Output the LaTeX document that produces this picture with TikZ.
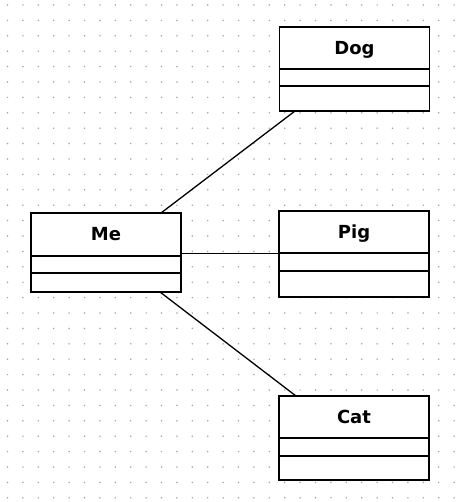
\documentclass[tikz,border=0pt]{standalone}
\usepackage{fontspec}
\newfontfamily\umlfont{DejaVu Sans}
\usetikzlibrary{calc}
\definecolor{dotc}{RGB}{165,165,165}
\tikzset{
  classbox/.style={draw=black, line width=1.7pt, fill=white, rectangle, anchor=north west, minimum width=150pt, inner sep=0pt, outer sep=0pt},
  classsep/.style={draw=black, line width=1.7pt},
  classname/.style={anchor=base, inner sep=0pt, font=\umlfont\bfseries\fontsize{18}{20}\selectfont},
  assoc/.style={draw=black, line width=1.3pt}
}
% #1 name, #2 text, #3 x, #4 y top, #5 height, #6 sep1 offset, #7 sep2 offset
\newcommand{\umlclass}[7]{%
  \node[classbox, minimum height=#5pt] (#1) at (#3,#4) {};
  \draw[classsep] ($(#1.north west)+(0,#6)$) -- ($(#1.north east)+(0,#6)$);
  \draw[classsep] ($(#1.north west)+(0,#7)$) -- ($(#1.north east)+(0,#7)$);
  \node[classname] (#1-name) at ($(#1.north)+(0,27.5)$) {#2};
}
\begin{document}
\begin{tikzpicture}[x=1pt, y=-1pt]
\useasboundingbox (0,0) rectangle (458,502);
\fill[white] (0,0) rectangle (458,502);
\foreach \i in {0,...,29} {
  \foreach \j in {0,...,32} {
    \fill[dotc] ({7.5+15.4*\i},{5+15.4*\j}) circle (0.85);
  }
}
\umlclass{Dog}{Dog}{279.5}{26.7}{84.3}{42.3}{59.3}
\umlclass{Me}{Me}{31}{213}{79}{43}{60}
\umlclass{Pig}{Pig}{279}{211}{86}{42}{60}
\umlclass{Cat}{Cat}{279}{396}{84}{42}{60}
\coordinate (dogfoot) at ($(Dog.south west)+(15.5,0)$);
\coordinate (metop) at ($(Me.north west)+(130,0)$);
\coordinate (mebot) at ($(Me.south west)+(129,0)$);
\coordinate (cattop) at ($(Cat.north west)+(17,0)$);
\coordinate (meright) at ($(Me.north east)+(0,40.5)$);
\coordinate (pigleft) at ($(Pig.north west)+(0,42.5)$);
\draw[assoc] (dogfoot) -- (metop);
\draw[assoc] (meright) -- (pigleft);
\draw[assoc] (mebot) -- (cattop);
\end{tikzpicture}
\end{document}
